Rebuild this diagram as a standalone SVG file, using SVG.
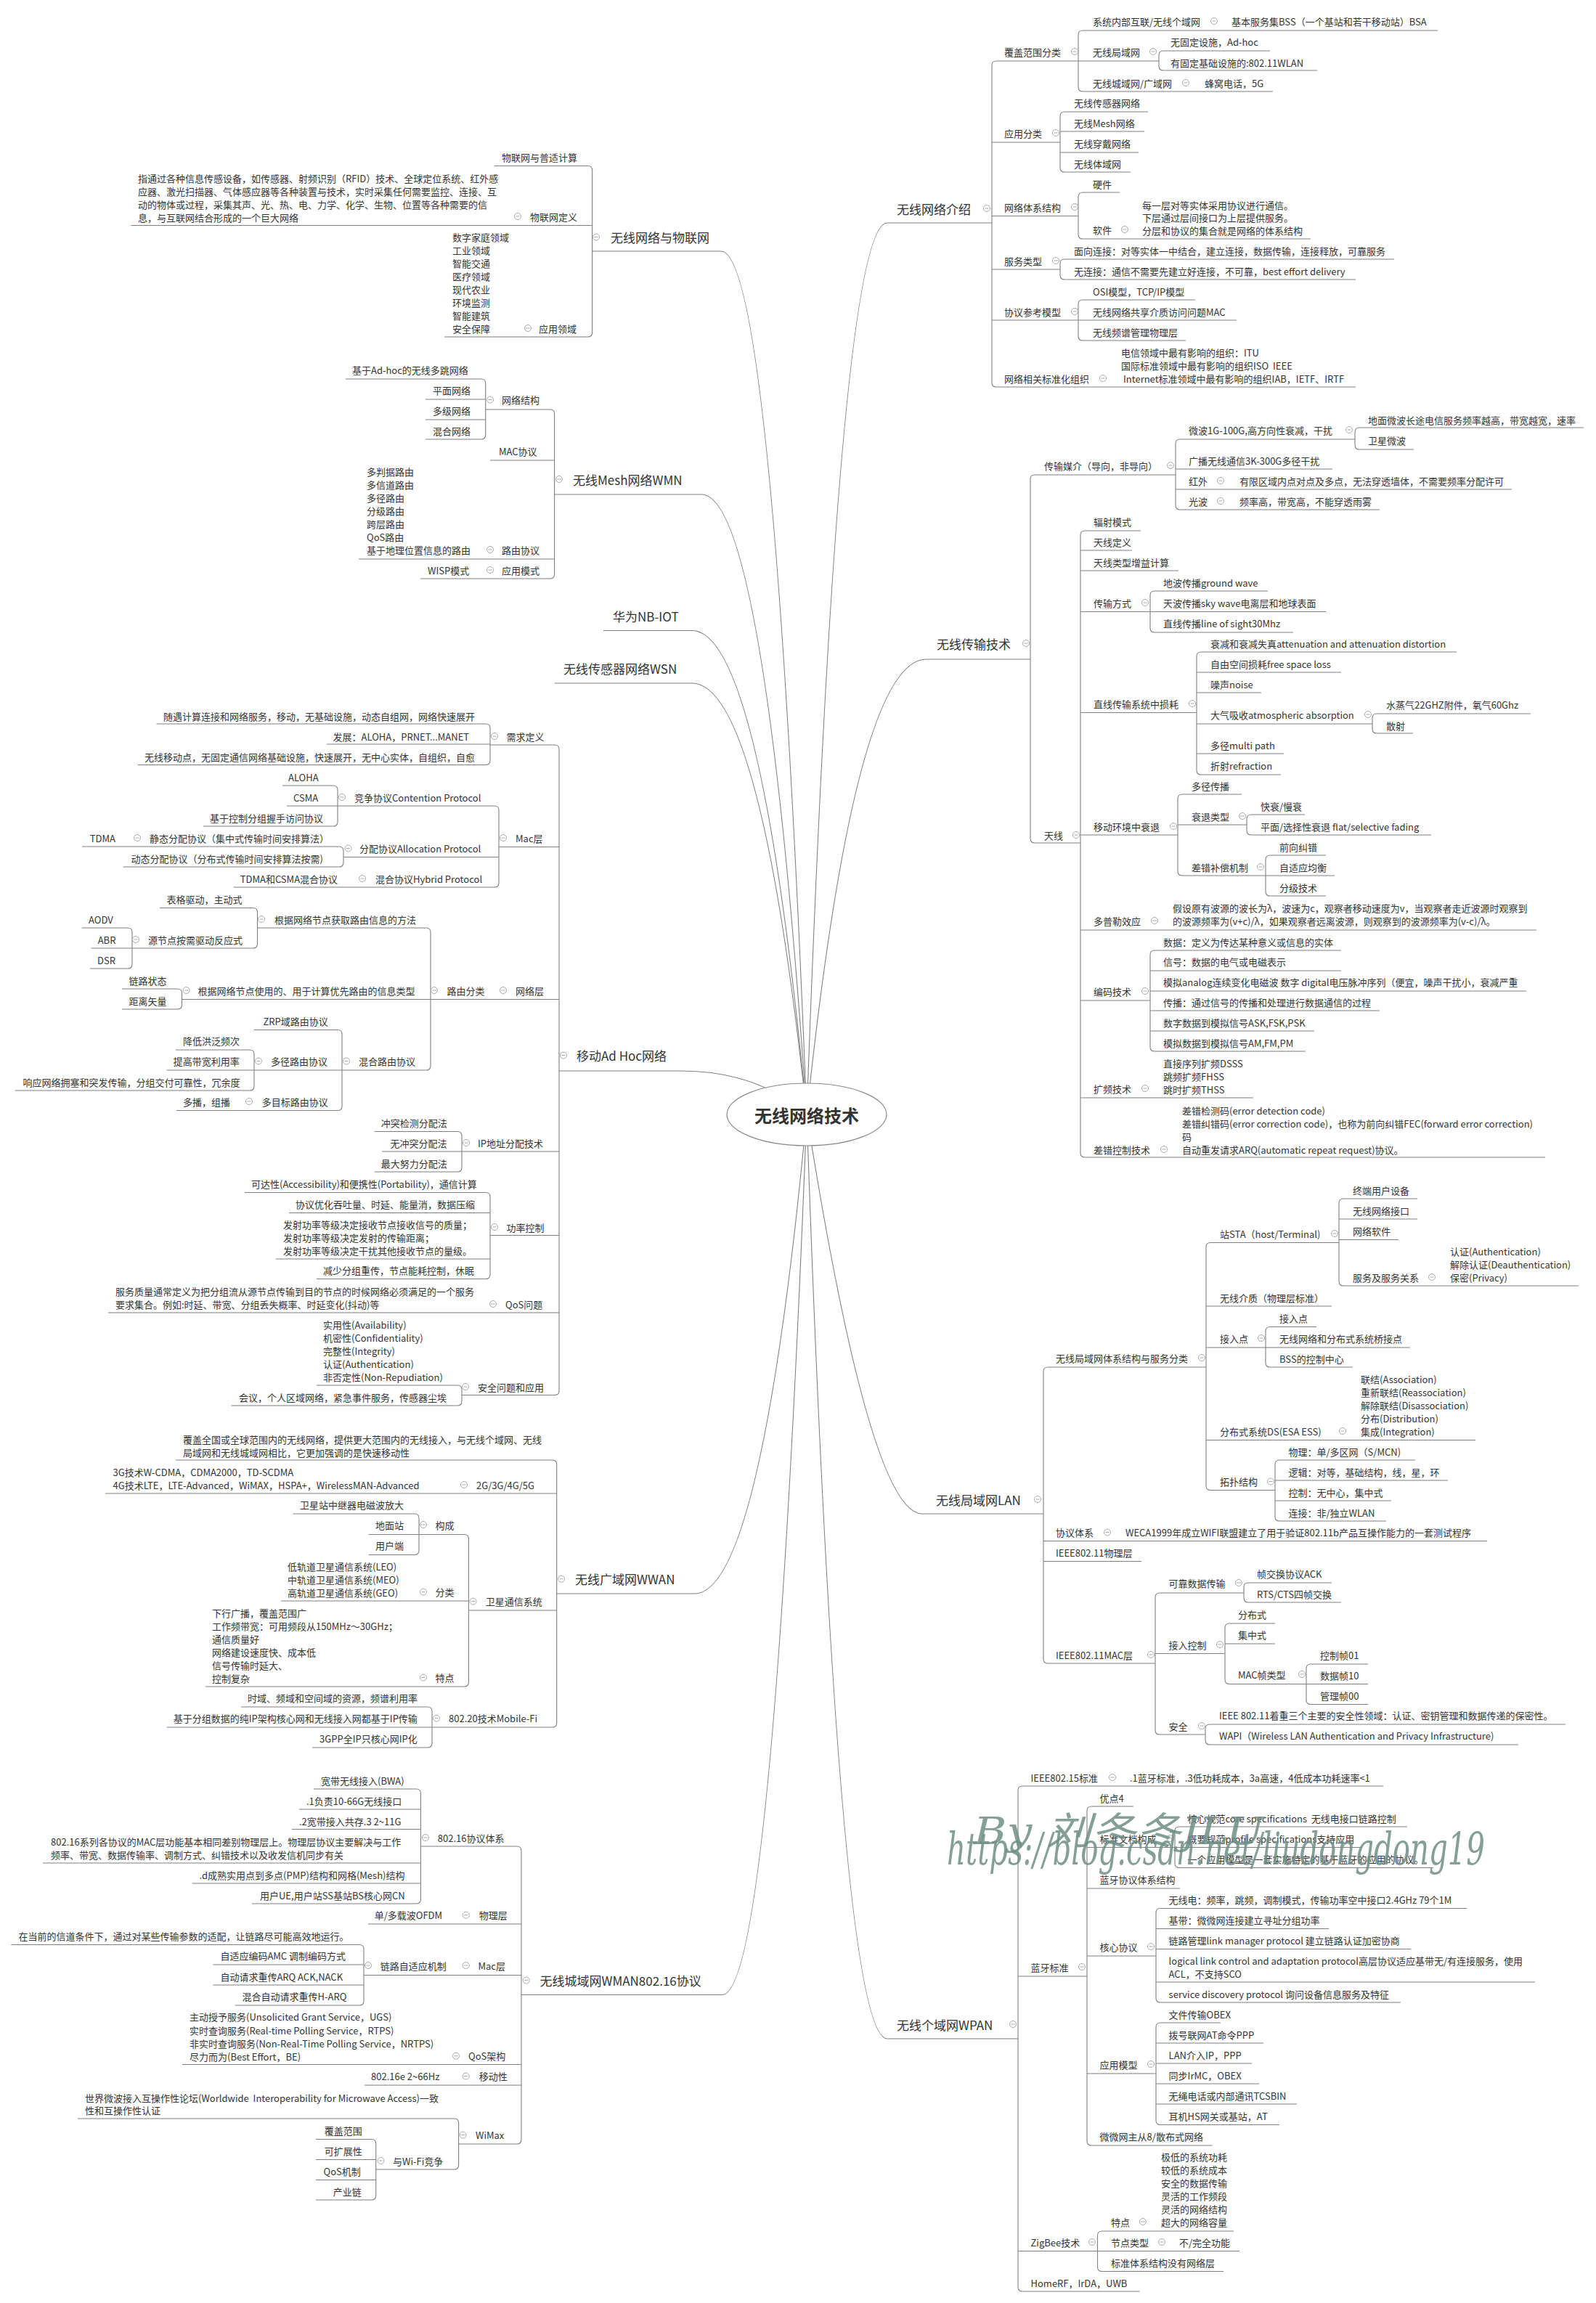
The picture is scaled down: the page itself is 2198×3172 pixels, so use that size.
<svg xmlns="http://www.w3.org/2000/svg" xmlns:xlink="http://www.w3.org/1999/xlink" width="2198" height="3172" viewBox="0 0 2198 3172">
<style>
.t{font-family:"Noto Sans CJK SC","Microsoft YaHei",sans-serif;font-size:13px;fill:#333;dominant-baseline:central;white-space:pre}
.b{font-size:17px}
.r{font-family:"Noto Sans CJK SC",sans-serif;font-size:24px;font-weight:bold;fill:#333;dominant-baseline:central;text-anchor:middle}
.c path{fill:none;stroke:#808080;stroke-width:1.1}
</style>
<defs>
<g id="m"><circle r="4.5" fill="#fff" stroke="#aaa" stroke-width="1"/><path d="M-2.5 0H2.5" stroke="#aaa" stroke-width="1"/></g>
</defs>
<rect width="2198" height="3172" fill="#fff"/>
<g id="connectors" class="c">
<path d="M1111 1535Q1155 307 1222 307H1366"/>
<path d="M1111 1535Q1177 908 1276 908H1419"/>
<path d="M1111 1535Q1198 2085 1270 2085H1437"/>
<path d="M1111 1535Q1155 2808 1222 2808H1402"/>
<path d="M1111 1535Q1064 346 993 346H815.6"/>
<path d="M1111 1535Q1053 681 966 681H763.6"/>
<path d="M1111 1535Q1048 868.5 953 868.5H831"/>
<path d="M1111 1535Q1048 941 953 941H763.6"/>
<path d="M1111 1535Q1042 1475 938 1475H770"/>
<path d="M1111 1535Q1049 2195 956.5 2195H766.7"/>
<path d="M1111 1535Q1064 2747.5 994.6 2747.5H718"/>
<path d="M1372 84Q1366 84 1366 90V527Q1366 533 1372 533M1372 84H1485M1366 196H1460M1366 297.5H1485M1366 371H1460M1366 441H1485M1372 533H1867"/>
<path d="M1491 42Q1485 42 1485 48V120Q1485 126 1491 126M1491 42H1980M1485 84H1596M1491 126H1753"/>
<path d="M1602 70Q1596 70 1596 76V91Q1596 97 1602 97M1602 70H1749M1602 97H1814"/>
<path d="M1466 154Q1460 154 1460 160V231Q1460 237 1466 237M1466 154H1581M1460 181H1576M1460 210H1568M1466 237H1557"/>
<path d="M1491 265Q1485 265 1485 271V323Q1485 329 1491 329M1491 265H1542M1491 329H1805"/>
<path d="M1466 357Q1460 357 1460 363V379Q1460 385 1466 385M1466 357H1920M1466 385H1867"/>
<path d="M1491 413Q1485 413 1485 419V463Q1485 469 1491 469M1491 413H1646M1485 441H1703M1491 469H1633"/>
<path d="M1425 654Q1419 654 1419 660V1155Q1419 1161 1425 1161M1425 654H1619M1425 1161H1488"/>
<path d="M1625 605Q1619 605 1619 611V696Q1619 702 1625 702M1625 605H1866M1619 646H1835M1619 674H2082M1625 702H1900"/>
<path d="M1872 589Q1866 589 1866 595V613Q1866 619 1872 619M1872 589H2181M1872 619H1947"/>
<path d="M1494 731Q1488 731 1488 737V1588Q1488 1594 1494 1594M1494 731H1571M1488 758H1559M1488 786H1623M1488 842.5H1584M1488 981.5H1648M1488 1150H1622M1488 1281H2116M1488 1378H1584M1488 1512H1726M1494 1594H2128"/>
<path d="M1590 814Q1584 814 1584 820V865Q1584 871 1590 871M1590 814H1746M1584 842.5H1826M1590 871H1781"/>
<path d="M1654 898Q1648 898 1648 904V1061Q1648 1067 1654 1067M1654 898H2006M1648 926H1847M1648 954H1737M1648 997H1890M1648 1038H1768M1654 1067H1764"/>
<path d="M1896 983Q1890 983 1890 989V1004Q1890 1010 1896 1010M1896 983H2108M1896 1010H1946"/>
<path d="M1628 1094Q1622 1094 1622 1100V1200Q1622 1206 1628 1206M1628 1094H1710M1622 1136H1717M1628 1206H1743"/>
<path d="M1723 1122Q1717 1122 1717 1128V1144Q1717 1150 1723 1150M1723 1122H1797M1723 1150H1971"/>
<path d="M1749 1178Q1743 1178 1743 1184V1228Q1743 1234 1749 1234M1749 1178H1826M1743 1206H1838M1749 1234H1826"/>
<path d="M1590 1309Q1584 1309 1584 1315V1442Q1584 1448 1590 1448M1590 1309H1847M1584 1337H1847M1584 1365H2102M1584 1392H1900M1584 1420H1810M1590 1448H1798"/>
<path d="M1443 1883Q1437 1883 1437 1889V2285Q1437 2291 1443 2291M1443 1883H1661M1437 2122.5H2048M1437 2150.5H1572M1443 2291H1591"/>
<path d="M1667 1711.5Q1661 1711.5 1661 1717.5V2046.5Q1661 2052.5 1667 2052.5M1667 1711.5H1844M1661 1799H1834M1661 1856H1743M1661 1983.5H2032M1667 2052.5H1756"/>
<path d="M1850 1651Q1844 1651 1844 1657V1765Q1844 1771 1850 1771M1850 1651H1952M1844 1679H1952M1844 1707.5H1926M1850 1771H2174"/>
<path d="M1749 1827.5Q1743 1827.5 1743 1833.5V1877Q1743 1883 1749 1883M1749 1827.5H1813M1743 1856H1942M1749 1883H1863"/>
<path d="M1762 2011Q1756 2011 1756 2017V2089Q1756 2095 1762 2095M1762 2011H1949M1756 2039H1994M1756 2067H1916M1762 2095H1909"/>
<path d="M1597 2194Q1591 2194 1591 2200V2383Q1591 2389 1597 2389M1597 2194H1713M1591 2277.5H1687M1597 2389H1660"/>
<path d="M1719 2180Q1713 2180 1713 2186V2201Q1713 2207 1719 2207M1719 2180H1834M1719 2207H1847"/>
<path d="M1693 2236Q1687 2236 1687 2242V2313.5Q1687 2319.5 1693 2319.5M1693 2236H1756M1687 2264H1756M1693 2319.5H1799"/>
<path d="M1805 2292Q1799 2292 1799 2298V2341.5Q1799 2347.5 1805 2347.5M1805 2292H1884M1799 2319.5H1884M1805 2347.5H1884"/>
<path d="M1666 2375Q1660 2375 1660 2381V2397Q1660 2403 1666 2403M1666 2375H2156M1666 2403H2091"/>
<path d="M1408 2460Q1402 2460 1402 2466V3150Q1402 3156 1408 3156M1408 2460H1905M1402 2722H1497M1402 3100.5H1511.5M1408 3156H1569.5"/>
<path d="M1503 2488Q1497 2488 1497 2494V2949Q1497 2955 1503 2955M1503 2488H1561M1497 2544.5H1618M1497 2601H1625M1497 2694H1592M1497 2856H1592M1503 2955H1669.5"/>
<path d="M1624 2516Q1618 2516 1618 2522V2566.5Q1618 2572.5 1624 2572.5M1624 2516H1938M1618 2544.5H1875M1624 2572.5H1974"/>
<path d="M1598 2628.5Q1592 2628.5 1592 2634.5V2752Q1592 2758 1598 2758M1598 2628.5H2020M1592 2656.5H1830M1592 2684.5H1943M1592 2730H2114M1598 2758H1929"/>
<path d="M1598 2786Q1592 2786 1592 2792V2920.5Q1592 2926.5 1598 2926.5M1598 2786H1681M1592 2814H1740M1592 2842H1724M1592 2870H1734M1592 2898H1786M1598 2926.5H1762"/>
<path d="M1517.5 3073Q1511.5 3073 1511.5 3079V3122.5Q1511.5 3128.5 1517.5 3128.5M1517.5 3073H1699M1511.5 3100.5H1707M1517.5 3128.5H1685"/>
<path d="M809.6 228.5Q815.6 228.5 815.6 234.5V458Q815.6 464 809.6 464M809.6 228.5H681M815.6 310.5H180.6M809.6 464H612"/>
<path d="M757.6 564Q763.6 564 763.6 570V791Q763.6 797 757.6 797M757.6 564H668.7M763.6 634H675M763.6 770H494M757.6 797H579"/>
<path d="M662.7 522Q668.7 522 668.7 528V599Q668.7 605 662.7 605M662.7 522H476M668.7 550H586M668.7 578H586M662.7 605H586"/>
<path d="M764 1026Q770 1026 770 1032V1915.5Q770 1921.5 764 1921.5M764 1026H675M770 1166.5H687M770 1376.5H593M770 1586H636M770 1701.5H675M770 1808H149M764 1921.5H636"/>
<path d="M669 997Q675 997 675 1003V1047.5Q675 1053.5 669 1053.5M669 997H215.5M675 1025H450M669 1053.5H190"/>
<path d="M681 1110Q687 1110 687 1116V1216Q687 1222 681 1222M681 1110H465M687 1180.5H473M681 1222H321.5"/>
<path d="M459 1082Q465 1082 465 1088V1132Q465 1138 459 1138M459 1082H389M465 1110H395M459 1138H280"/>
<path d="M467 1166Q473 1166 473 1172V1188Q473 1194 467 1194M467 1166H113M467 1194H169.6"/>
<path d="M587 1278Q593 1278 593 1284V1468Q593 1474 587 1474M587 1278H354.5M593 1376.5H250.5M587 1474H471"/>
<path d="M348.5 1250.5Q354.5 1250.5 354.5 1256.5V1300Q354.5 1306 348.5 1306M348.5 1250.5H220M348.5 1306H182"/>
<path d="M176 1278Q182 1278 182 1284V1328Q182 1334 176 1334M176 1278H112.6M182 1306H125.5M176 1334H124"/>
<path d="M244.5 1362Q250.5 1362 250.5 1368V1384Q250.5 1390 244.5 1390M244.5 1362H168M244.5 1390H168"/>
<path d="M465 1418.5Q471 1418.5 471 1424.5V1523.5Q471 1529.5 465 1529.5M465 1418.5H350M471 1474H350M465 1529.5H243"/>
<path d="M344 1446Q350 1446 350 1452V1496Q350 1502 344 1502M344 1446H242M350 1474H229.6M344 1502H20.7"/>
<path d="M630 1558.5Q636 1558.5 636 1564.5V1608Q636 1614 630 1614M630 1558.5H515.6M636 1586H526M630 1614H515.6"/>
<path d="M669 1642.5Q675 1642.5 675 1648.5V1755.5Q675 1761.5 669 1761.5M669 1642.5H337M675 1670.5H398M675 1734H379.5M669 1761.5H436"/>
<path d="M630 1908Q636 1908 636 1914V1930Q636 1936 630 1936M630 1908H436M630 1936H318.4"/>
<path d="M760.7 2011Q766.7 2011 766.7 2017V2373Q766.7 2379 760.7 2379M760.7 2011H242M766.7 2057H145M766.7 2218H645.4M760.7 2379H595"/>
<path d="M639.4 2113.5Q645.4 2113.5 645.4 2119.5V2317Q645.4 2323 639.4 2323M639.4 2113.5H577M645.4 2205H387M639.4 2323H283"/>
<path d="M571 2085Q577 2085 577 2091V2135.5Q577 2141.5 571 2141.5M571 2085H403.5M577 2113.5H507.5M571 2141.5H507.5"/>
<path d="M589 2351Q595 2351 595 2357V2401Q595 2407 589 2407M589 2351H332M595 2379H229.6M589 2407H430"/>
<path d="M712 2543Q718 2543 718 2549V2947Q718 2953 712 2953M712 2543H579.4M718 2650H507M718 2720.5H501M718 2843.5H251M718 2872H502M712 2953H631.6"/>
<path d="M573.4 2464Q579.4 2464 579.4 2470V2616Q579.4 2622 573.4 2622M573.4 2464H432M579.4 2492H412M579.4 2519.5H402M579.4 2566H59M579.4 2594H264.6M573.4 2622H347"/>
<path d="M495 2678.5Q501 2678.5 501 2684.5V2756Q501 2762 495 2762M495 2678.5H15.4M501 2706H293.4M501 2734H293.4M495 2762H323.5"/>
<path d="M625.6 2918Q631.6 2918 631.6 2924V2982Q631.6 2988 625.6 2988M625.6 2918H107M625.6 2988H517.7"/>
<path d="M511.7 2946.5Q517.7 2946.5 517.7 2952.5V3024Q517.7 3030 511.7 3030M511.7 2946.5H435M517.7 2974.5H435M517.7 3002.5H435M511.7 3030H435"/>
</g>
<g id="root"><ellipse cx="1111" cy="1535" rx="110" ry="43" fill="#fff" stroke="#888" stroke-width="1.2"/><text class="r" x="1111" y="1535">无线网络技术</text></g>
<g id="a0"><text class="t b" x="1235" y="287">无线网络介绍</text><use href="#m" x="1359" y="287"/></g>
<g id="a1"><text class="t" x="1383" y="71">覆盖范围分类</text><use href="#m" x="1480" y="71"/></g>
<g id="a2"><text class="t" x="1505" y="29">系统内部互联/无线个域网</text><use href="#m" x="1672" y="29"/></g>
<g id="a3"><text class="t" x="1696" y="29">基本服务集BSS（一个基站和若干移动站）BSA</text></g>
<g id="a4"><text class="t" x="1505" y="71">无线局域网</text><use href="#m" x="1588" y="71"/></g>
<g id="a5"><text class="t" x="1612" y="57">无固定设施，Ad-hoc</text></g>
<g id="a6"><text class="t" x="1612" y="86">有固定基础设施的:802.11WLAN</text></g>
<g id="a7"><text class="t" x="1505" y="114">无线城域网/广域网</text><use href="#m" x="1633" y="114"/></g>
<g id="a8"><text class="t" x="1659" y="114">蜂窝电话，5G</text></g>
<g id="a9"><text class="t" x="1383" y="183">应用分类</text><use href="#m" x="1454" y="183"/></g>
<g id="a10"><text class="t" x="1479" y="141">无线传感器网络</text></g>
<g id="a11"><text class="t" x="1479" y="169">无线Mesh网络</text></g>
<g id="a12"><text class="t" x="1479" y="197">无线穿戴网络</text></g>
<g id="a13"><text class="t" x="1479" y="225">无线体域网</text></g>
<g id="a14"><text class="t" x="1383" y="285">网络体系结构</text><use href="#m" x="1480" y="285"/></g>
<g id="a15"><text class="t" x="1505" y="253">硬件</text></g>
<g id="a16"><text class="t" x="1505" y="316">软件</text><use href="#m" x="1549" y="316"/></g>
<g id="a17"><text class="t"><tspan x="1573" y="282">每一层对等实体采用协议进行通信。</tspan><tspan x="1573" y="299">下层通过层间接口为上层提供服务。</tspan><tspan x="1573" y="317">分层和协议的集合就是网络的体系结构</tspan></text></g>
<g id="a18"><text class="t" x="1383" y="359">服务类型</text><use href="#m" x="1454" y="359"/></g>
<g id="a19"><text class="t" x="1479" y="345">面向连接：对等实体一中结合，建立连接，数据传输，连接释放，可靠服务</text></g>
<g id="a20"><text class="t" x="1479" y="373">无连接：通信不需要先建立好连接，不可靠，best effort delivery</text></g>
<g id="a21"><text class="t" x="1383" y="429">协议参考模型</text><use href="#m" x="1480" y="429"/></g>
<g id="a22"><text class="t" x="1505" y="401">OSI模型，TCP/IP模型</text></g>
<g id="a23"><text class="t" x="1505" y="429">无线网络共享介质访问问题MAC</text></g>
<g id="a24"><text class="t" x="1505" y="457">无线频谱管理物理层</text></g>
<g id="a25"><text class="t" x="1383" y="521">网络相关标准化组织</text><use href="#m" x="1519" y="521"/></g>
<g id="a26"><text class="t"><tspan x="1544" y="485">电信领域中最有影响的组织：ITU</tspan><tspan x="1544" y="503">国际标准领域中最有影响的组织ISO  IEEE</tspan><tspan x="1547" y="521">Internet标准领域中最有影响的组织IAB，IETF、IRTF</tspan></text></g>
<g id="b0"><text class="t b" x="1290" y="886">无线传输技术</text><use href="#m" x="1413" y="886"/></g>
<g id="b1"><text class="t" x="1438" y="641">传输媒介（导向，非导向）</text><use href="#m" x="1612" y="641"/></g>
<g id="b2"><text class="t" x="1637" y="592">微波1G-100G,高方向性衰减，干扰</text><use href="#m" x="1858" y="592"/></g>
<g id="b3"><text class="t" x="1884" y="578">地面微波长途电信服务频率越高，带宽越宽，速率</text></g>
<g id="b4"><text class="t" x="1884" y="606">卫星微波</text></g>
<g id="b5"><text class="t" x="1637" y="634">广播无线通信3K-300G多径干扰</text></g>
<g id="b6"><text class="t" x="1637" y="662">红外</text><use href="#m" x="1681" y="662"/></g>
<g id="b7"><text class="t" x="1707" y="662">有限区域内点对点及多点，无法穿透墙体，不需要频率分配许可</text></g>
<g id="b8"><text class="t" x="1637" y="690">光波</text><use href="#m" x="1681" y="690"/></g>
<g id="b9"><text class="t" x="1707" y="690">频率高，带宽高，不能穿透雨雾</text></g>
<g id="b10"><text class="t" x="1438" y="1150">天线</text><use href="#m" x="1482" y="1150"/></g>
<g id="b11"><text class="t" x="1506" y="718">辐射模式</text></g>
<g id="b12"><text class="t" x="1506" y="746">天线定义</text></g>
<g id="b13"><text class="t" x="1506" y="774">天线类型增益计算</text></g>
<g id="b14"><text class="t" x="1506" y="830">传输方式</text><use href="#m" x="1577" y="830"/></g>
<g id="b15"><text class="t" x="1602" y="802">地波传播ground wave</text></g>
<g id="b16"><text class="t" x="1602" y="830">天波传播sky wave电离层和地球表面</text></g>
<g id="b17"><text class="t" x="1602" y="858">直线传播line of sight30Mhz</text></g>
<g id="b18"><text class="t" x="1506" y="969">直线传输系统中损耗</text><use href="#m" x="1642" y="969"/></g>
<g id="b19"><text class="t" x="1667" y="886">衰减和衰减失真attenuation and attenuation distortion</text></g>
<g id="b20"><text class="t" x="1667" y="914">自由空间损耗free space loss</text></g>
<g id="b21"><text class="t" x="1667" y="942">噪声noise</text></g>
<g id="b22"><text class="t" x="1667" y="984">大气吸收atmospheric absorption</text><use href="#m" x="1884" y="984"/></g>
<g id="b23"><text class="t" x="1667" y="1026">多径multi path</text></g>
<g id="b24"><text class="t" x="1667" y="1054">折射refraction</text></g>
<g id="b25"><text class="t" x="1909" y="970">水蒸气22GHZ附件，氧气60Ghz</text></g>
<g id="b26"><text class="t" x="1909" y="999">散射</text></g>
<g id="b27"><text class="t" x="1506" y="1138">移动环境中衰退</text><use href="#m" x="1616" y="1138"/></g>
<g id="b28"><text class="t" x="1641" y="1082">多径传播</text></g>
<g id="b29"><text class="t" x="1641" y="1124">衰退类型</text><use href="#m" x="1711" y="1124"/></g>
<g id="b30"><text class="t" x="1736" y="1110">快衰/慢衰</text></g>
<g id="b31"><text class="t" x="1736" y="1138">平面/选择性衰退 flat/selective fading</text></g>
<g id="b32"><text class="t" x="1641" y="1194">差错补偿机制</text><use href="#m" x="1736" y="1194"/></g>
<g id="b33"><text class="t" x="1762" y="1166">前向纠错</text></g>
<g id="b34"><text class="t" x="1762" y="1194">自适应均衡</text></g>
<g id="b35"><text class="t" x="1762" y="1222">分级技术</text></g>
<g id="b36"><text class="t" x="1506" y="1268">多普勒效应</text><use href="#m" x="1590" y="1268"/></g>
<g id="b37"><text class="t"><tspan x="1615" y="1250">假设原有波源的波长为λ，波速为c，观察者移动速度为v，当观察者走近波源时观察到</tspan><tspan x="1615" y="1268">的波源频率为(v+c)/λ，如果观察者远离波源，则观察到的波源频率为(v-c)/λ。</tspan></text></g>
<g id="b38"><text class="t" x="1506" y="1365">编码技术</text><use href="#m" x="1577" y="1365"/></g>
<g id="b39"><text class="t" x="1602" y="1297">数据：定义为传达某种意义或信息的实体</text></g>
<g id="b40"><text class="t" x="1602" y="1324">信号：数据的电气或电磁表示</text></g>
<g id="b41"><text class="t" x="1602" y="1352">模拟analog连续变化电磁波 数字 digital电压脉冲序列（便宜，噪声干扰小，衰减严重</text></g>
<g id="b42"><text class="t" x="1602" y="1380">传播：通过信号的传播和处理进行数据通信的过程</text></g>
<g id="b43"><text class="t" x="1602" y="1408">数字数据到模拟信号ASK,FSK,PSK</text></g>
<g id="b44"><text class="t" x="1602" y="1436">模拟数据到模拟信号AM,FM,PM</text></g>
<g id="b45"><text class="t" x="1506" y="1499">扩频技术</text><use href="#m" x="1577" y="1499"/></g>
<g id="b46"><text class="t"><tspan x="1602" y="1464">直接序列扩频DSSS</tspan><tspan x="1602" y="1482">跳频扩频FHSS</tspan><tspan x="1602" y="1500">跳时扩频THSS</tspan></text></g>
<g id="b47"><text class="t" x="1506" y="1583">差错控制技术</text><use href="#m" x="1603" y="1583"/></g>
<g id="b48"><text class="t"><tspan x="1628" y="1529">差错检测码(error detection code)</tspan><tspan x="1628" y="1547">差错纠错码(error correction code)，也称为前向纠错FEC(forward error correction)</tspan><tspan x="1628" y="1565">码</tspan><tspan x="1628" y="1583">自动重发请求ARQ(automatic repeat request)协议。</tspan></text></g>
<g id="c0"><text class="t b" x="1289" y="2065">无线局域网LAN</text><use href="#m" x="1429" y="2065"/></g>
<g id="c1"><text class="t" x="1454" y="1870">无线局域网体系结构与服务分类</text><use href="#m" x="1655" y="1870"/></g>
<g id="c2"><text class="t" x="1680" y="1699">站STA（host/Terminal)</text><use href="#m" x="1838" y="1699"/></g>
<g id="c3"><text class="t" x="1863" y="1639">终端用户设备</text></g>
<g id="c4"><text class="t" x="1863" y="1667">无线网络接口</text></g>
<g id="c5"><text class="t" x="1863" y="1695.5">网络软件</text></g>
<g id="c6"><text class="t" x="1863" y="1759">服务及服务关系</text><use href="#m" x="1972" y="1759"/></g>
<g id="c7"><text class="t"><tspan x="1997" y="1723">认证(Authentication)</tspan><tspan x="1997" y="1741">解除认证(Deauthentication)</tspan><tspan x="1997" y="1759">保密(Privacy)</tspan></text></g>
<g id="c8"><text class="t" x="1680" y="1787">无线介质（物理层标准）</text></g>
<g id="c9"><text class="t" x="1680" y="1843">接入点</text><use href="#m" x="1737" y="1843"/></g>
<g id="c10"><text class="t" x="1762" y="1815">接入点</text></g>
<g id="c11"><text class="t" x="1762" y="1843">无线网络和分布式系统桥接点</text></g>
<g id="c12"><text class="t" x="1762" y="1871">BSS的控制中心</text></g>
<g id="c13"><text class="t" x="1680" y="1971">分布式系统DS(ESA ESS)</text><use href="#m" x="1849" y="1971"/></g>
<g id="c14"><text class="t"><tspan x="1874" y="1899">联结(Association)</tspan><tspan x="1874" y="1917">重新联结(Reassociation)</tspan><tspan x="1874" y="1935">解除联结(Disassociation)</tspan><tspan x="1874" y="1953">分布(Distribution)</tspan><tspan x="1874" y="1971">集成(Integration)</tspan></text></g>
<g id="c15"><text class="t" x="1680" y="2040.5">拓扑结构</text><use href="#m" x="1750" y="2040.5"/></g>
<g id="c16"><text class="t" x="1774.5" y="1999">物理：单/多区网（S/MCN)</text></g>
<g id="c17"><text class="t" x="1774.5" y="2027">逻辑：对等，基础结构，线，星，环</text></g>
<g id="c18"><text class="t" x="1774.5" y="2055">控制：无中心，集中式</text></g>
<g id="c19"><text class="t" x="1774.5" y="2083">连接：非/独立WLAN</text></g>
<g id="c20"><text class="t" x="1454" y="2110.5">协议体系</text><use href="#m" x="1525" y="2110.5"/></g>
<g id="c21"><text class="t" x="1550" y="2110.5">WECA1999年成立WIFI联盟建立了用于验证802.11b产品互操作能力的一套测试程序</text></g>
<g id="c22"><text class="t" x="1454" y="2138.5">IEEE802.11物理层</text></g>
<g id="c23"><text class="t" x="1454" y="2279">IEEE802.11MAC层</text><use href="#m" x="1585" y="2279"/></g>
<g id="c24"><text class="t" x="1609.6" y="2180">可靠数据传输</text><use href="#m" x="1706" y="2180"/></g>
<g id="c25"><text class="t" x="1731" y="2167">帧交换协议ACK</text></g>
<g id="c26"><text class="t" x="1731" y="2195">RTS/CTS四帧交换</text></g>
<g id="c27"><text class="t" x="1609.6" y="2265">接入控制</text><use href="#m" x="1680" y="2265"/></g>
<g id="c28"><text class="t" x="1705" y="2223">分布式</text></g>
<g id="c29"><text class="t" x="1705" y="2251">集中式</text></g>
<g id="c30"><text class="t" x="1705" y="2306">MAC帧类型</text><use href="#m" x="1793" y="2306"/></g>
<g id="c31"><text class="t" x="1818" y="2279">控制帧01</text></g>
<g id="c32"><text class="t" x="1818" y="2307">数据帧10</text></g>
<g id="c33"><text class="t" x="1818" y="2335">管理帧00</text></g>
<g id="c34"><text class="t" x="1609.6" y="2377">安全</text><use href="#m" x="1655" y="2377"/></g>
<g id="c35"><text class="t" x="1679" y="2362.5">IEEE 802.11着重三个主要的安全性领域：认证、密钥管理和数据传递的保密性。</text></g>
<g id="c36"><text class="t" x="1679" y="2390.5">WAPI（Wireless LAN Authentication and Privacy Infrastructure)</text></g>
<g id="d0"><text class="t b" x="1235" y="2788">无线个域网WPAN</text><use href="#m" x="1395" y="2788"/></g>
<g id="d1"><text class="t" x="1419.5" y="2448">IEEE802.15标准</text><use href="#m" x="1532" y="2448"/></g>
<g id="d2"><text class="t" x="1556" y="2448">.1蓝牙标准，.3低功耗成本，3a高速，4低成本功耗速率&lt;1</text></g>
<g id="d3"><text class="t" x="1419.5" y="2709">蓝牙标准</text><use href="#m" x="1490" y="2709"/></g>
<g id="d4"><text class="t" x="1514.6" y="2476">优点4</text></g>
<g id="d5"><text class="t" x="1514.6" y="2532">标准文档构成</text><use href="#m" x="1611.5" y="2532"/></g>
<g id="d6"><text class="t" x="1635.5" y="2504">核心规范core specifications  无线电接口链路控制</text></g>
<g id="d7"><text class="t" x="1635.5" y="2532">概要规范profile specifications支持应用</text></g>
<g id="d8"><text class="t" x="1635.5" y="2560">一个应用模型是一套实施特定的基于蓝牙的应用的协议。</text></g>
<g id="d9"><text class="t" x="1514.6" y="2588">蓝牙协议体系结构</text></g>
<g id="d10"><text class="t" x="1514.6" y="2681">核心协议</text><use href="#m" x="1585" y="2681"/></g>
<g id="d11"><text class="t" x="1609.6" y="2616">无线电：频率，跳频，调制模式，传输功率空中接口2.4GHz 79个1M</text></g>
<g id="d12"><text class="t" x="1609.6" y="2644">基带：微微网连接建立寻址分组功率</text></g>
<g id="d13"><text class="t" x="1609.6" y="2672">链路管理link manager protocol 建立链路认证加密协商</text></g>
<g id="d14"><text class="t"><tspan x="1609.6" y="2700">logical link control and adaptation protocol高层协议适应基带无/有连接服务，使用</tspan><tspan x="1609.6" y="2718">ACL，不支持SCO</tspan></text></g>
<g id="d15"><text class="t" x="1609.6" y="2746">service discovery protocol 询问设备信息服务及特征</text></g>
<g id="d16"><text class="t" x="1514.6" y="2843">应用模型</text><use href="#m" x="1585" y="2843"/></g>
<g id="d17"><text class="t" x="1609.6" y="2774">文件传输OBEX</text></g>
<g id="d18"><text class="t" x="1609.6" y="2802">拨号联网AT命令PPP</text></g>
<g id="d19"><text class="t" x="1609.6" y="2830">LAN介入IP，PPP</text></g>
<g id="d20"><text class="t" x="1609.6" y="2858">同步IrMC，OBEX</text></g>
<g id="d21"><text class="t" x="1609.6" y="2886">无绳电话或内部通讯TCSBIN</text></g>
<g id="d22"><text class="t" x="1609.6" y="2914">耳机HS网关或基站，AT</text></g>
<g id="d23"><text class="t" x="1514.6" y="2942">微微网主从8/散布式网络</text></g>
<g id="d24"><text class="t" x="1419.5" y="3088">ZigBee技术</text><use href="#m" x="1504" y="3088"/></g>
<g id="d25"><text class="t" x="1530" y="3060">特点</text><use href="#m" x="1574" y="3060"/></g>
<g id="d26"><text class="t"><tspan x="1599" y="2970">极低的系统功耗</tspan><tspan x="1599" y="2988">较低的系统成本</tspan><tspan x="1599" y="3006">安全的数据传输</tspan><tspan x="1599" y="3024">灵活的工作频段</tspan><tspan x="1599" y="3042">灵活的网络结构</tspan><tspan x="1599" y="3060">超大的网络容量</tspan></text></g>
<g id="d27"><text class="t" x="1530" y="3088">节点类型</text><use href="#m" x="1600" y="3088"/></g>
<g id="d28"><text class="t" x="1624" y="3088">不/完全功能</text></g>
<g id="d29"><text class="t" x="1530" y="3116">标准体系结构没有网络层</text></g>
<g id="d30"><text class="t" x="1419.5" y="3144">HomeRF，IrDA，UWB</text></g>
<g id="e0"><text class="t b" x="841" y="326.5">无线网络与物联网</text><use href="#m" x="821" y="326.5"/></g>
<g id="e1"><text class="t" x="691" y="216">物联网与普适计算</text></g>
<g id="e2"><text class="t" x="730" y="298">物联网定义</text><use href="#m" x="713" y="298"/></g>
<g id="e3"><text class="t"><tspan x="190" y="244.5">指通过各种信息传感设备，如传感器、射频识别（RFID）技术、全球定位系统、红外感</tspan><tspan x="190" y="262.5">应器、激光扫描器、气体感应器等各种装置与技术，实时采集任何需要监控、连接、互</tspan><tspan x="190" y="280.5">动的物体或过程，采集其声、光、热、电、力学、化学、生物、位置等各种需要的信</tspan><tspan x="190" y="298.5">息，与互联网结合形成的一个巨大网络</tspan></text></g>
<g id="e4"><text class="t" x="742" y="452">应用领域</text><use href="#m" x="727" y="452"/></g>
<g id="e5"><text class="t"><tspan x="623" y="326">数字家庭领域</tspan><tspan x="623" y="344">工业领域</tspan><tspan x="623" y="362">智能交通</tspan><tspan x="623" y="380">医疗领域</tspan><tspan x="623" y="398">现代农业</tspan><tspan x="623" y="416">环境监测</tspan><tspan x="623" y="434">智能建筑</tspan><tspan x="623" y="452">安全保障</tspan></text></g>
<g id="f0"><text class="t b" x="789" y="660">无线Mesh网络WMN</text><use href="#m" x="770" y="660"/></g>
<g id="f1"><text class="t" x="691" y="550.5">网络结构</text><use href="#m" x="675" y="550.5"/></g>
<g id="f2"><text class="t" x="485" y="509">基于Ad-hoc的无线多跳网络</text></g>
<g id="f3"><text class="t" x="596" y="537">平面网络</text></g>
<g id="f4"><text class="t" x="596" y="565">多级网络</text></g>
<g id="f5"><text class="t" x="596" y="593">混合网络</text></g>
<g id="f6"><text class="t" x="687" y="621">MAC协议</text></g>
<g id="f7"><text class="t" x="691" y="757">路由协议</text><use href="#m" x="675" y="757"/></g>
<g id="f8"><text class="t"><tspan x="505" y="649">多判据路由</tspan><tspan x="505" y="667">多信道路由</tspan><tspan x="505" y="685">多径路由</tspan><tspan x="505" y="703">分级路由</tspan><tspan x="505" y="721">跨层路由</tspan><tspan x="505" y="739">QoS路由</tspan><tspan x="505" y="757">基于地理位置信息的路由</tspan></text></g>
<g id="f9"><text class="t" x="691" y="785">应用模式</text><use href="#m" x="675" y="785"/></g>
<g id="f10"><text class="t" x="589" y="785">WISP模式</text></g>
<g id="g0"><text class="t b" x="844" y="848">华为NB-IOT</text></g>
<g id="h0"><text class="t b" x="776" y="920">无线传感器网络WSN</text></g>
<g id="i0"><text class="t b" x="794" y="1453.5">移动Ad Hoc网络</text><use href="#m" x="776" y="1453.5"/></g>
<g id="i1"><text class="t" x="697.5" y="1014">需求定义</text><use href="#m" x="681" y="1014"/></g>
<g id="i2"><text class="t" x="225" y="986">随遇计算连接和网络服务，移动，无基础设施，动态自组网，网络快速展开</text></g>
<g id="i3"><text class="t" x="458.6" y="1014">发展：ALOHA，PRNET...MANET</text></g>
<g id="i4"><text class="t" x="199" y="1042">无线移动点，无固定通信网络基础设施，快速展开，无中心实体，自组织，自愈</text></g>
<g id="i5"><text class="t" x="710" y="1154">Mac层</text><use href="#m" x="693" y="1154"/></g>
<g id="i6"><text class="t" x="488" y="1098">竞争协议Contention Protocol</text><use href="#m" x="471" y="1098"/></g>
<g id="i7"><text class="t" x="397" y="1070">ALOHA</text></g>
<g id="i8"><text class="t" x="404" y="1098">CSMA</text></g>
<g id="i9"><text class="t" x="289" y="1126">基于控制分组握手访问协议</text></g>
<g id="i10"><text class="t" x="495" y="1168.5">分配协议Allocation Protocol</text><use href="#m" x="479.5" y="1168.5"/></g>
<g id="i11"><text class="t" x="206" y="1154">静态分配协议（集中式传输时间安排算法）</text><use href="#m" x="189" y="1154"/></g>
<g id="i12"><text class="t" x="123.7" y="1154">TDMA</text></g>
<g id="i13"><text class="t" x="180.6" y="1182">动态分配协议（分布式传输时间安排算法按需)</text></g>
<g id="i14"><text class="t" x="517" y="1210">混合协议Hybrid Protocol</text><use href="#m" x="499" y="1210"/></g>
<g id="i15"><text class="t" x="330.7" y="1210">TDMA和CSMA混合协议</text></g>
<g id="i16"><text class="t" x="710" y="1364">网络层</text><use href="#m" x="693" y="1364"/></g>
<g id="i17"><text class="t" x="615.4" y="1364">路由分类</text><use href="#m" x="598" y="1364"/></g>
<g id="i18"><text class="t" x="378" y="1266">根据网络节点获取路由信息的方法</text><use href="#m" x="360" y="1266"/></g>
<g id="i19"><text class="t" x="229.6" y="1238.6">表格驱动，主动式</text></g>
<g id="i20"><text class="t" x="204" y="1294">源节点按需驱动反应式</text><use href="#m" x="187" y="1294"/></g>
<g id="i21"><text class="t" x="122" y="1266">AODV</text></g>
<g id="i22"><text class="t" x="134.7" y="1294">ABR</text></g>
<g id="i23"><text class="t" x="134" y="1322">DSR</text></g>
<g id="i24"><text class="t" x="272.5" y="1364">根据网络节点使用的、用于计算优先路由的信息类型</text><use href="#m" x="256.6" y="1364"/></g>
<g id="i25"><text class="t" x="177.6" y="1350.5">链路状态</text></g>
<g id="i26"><text class="t" x="177.6" y="1378">距离矢量</text></g>
<g id="i27"><text class="t" x="494" y="1461.5">混合路由协议</text><use href="#m" x="477" y="1461.5"/></g>
<g id="i28"><text class="t" x="362.5" y="1406">ZRP域路由协议</text></g>
<g id="i29"><text class="t" x="373" y="1461.5">多径路由协议</text><use href="#m" x="356" y="1461.5"/></g>
<g id="i30"><text class="t" x="252" y="1433.6">降低洪泛频次</text></g>
<g id="i31"><text class="t" x="238.8" y="1461.5">提高带宽利用率</text></g>
<g id="i32"><text class="t" x="31.5" y="1490">响应网络拥塞和突发传输，分组交付可靠性，冗余度</text></g>
<g id="i33"><text class="t" x="360.7" y="1517">多目标路由协议</text><use href="#m" x="343" y="1517"/></g>
<g id="i34"><text class="t" x="252" y="1517">多播，组播</text></g>
<g id="i35"><text class="t" x="658" y="1574">IP地址分配技术</text><use href="#m" x="642" y="1574"/></g>
<g id="i36"><text class="t" x="524.8" y="1546">冲突检测分配法</text></g>
<g id="i37"><text class="t" x="537.6" y="1574">无冲突分配法</text></g>
<g id="i38"><text class="t" x="524.8" y="1602">最大努力分配法</text></g>
<g id="i39"><text class="t" x="697.5" y="1690">功率控制</text><use href="#m" x="681" y="1690"/></g>
<g id="i40"><text class="t" x="346" y="1630">可达性(Accessibility)和便携性(Portability)，通信计算</text></g>
<g id="i41"><text class="t" x="407" y="1658">协议优化吞吐量、时延、能量消，数据压缩</text></g>
<g id="i42"><text class="t"><tspan x="390" y="1686">发射功率等级决定接收节点接收信号的质量；</tspan><tspan x="390" y="1704">发射功率等级决定发射的传输距离；</tspan><tspan x="390" y="1722">发射功率等级决定干扰其他接收节点的量级。</tspan></text></g>
<g id="i43"><text class="t" x="445" y="1749">减少分组重传，节点能耗控制，休眠</text></g>
<g id="i44"><text class="t" x="696" y="1796">QoS问题</text><use href="#m" x="679" y="1796"/></g>
<g id="i45"><text class="t"><tspan x="159" y="1778">服务质量通常定义为把分组流从源节点传输到目的节点的时候网络必须满足的一个服务</tspan><tspan x="159" y="1796">要求集合。例如:时延、带宽、分组丢失概率、时延变化(抖动)等</tspan></text></g>
<g id="i46"><text class="t" x="658" y="1910">安全问题和应用</text><use href="#m" x="641" y="1910"/></g>
<g id="i47"><text class="t"><tspan x="445" y="1824">实用性(Availability)</tspan><tspan x="445" y="1842">机密性(Confidentiality)</tspan><tspan x="445" y="1860">完整性(Integrity)</tspan><tspan x="445" y="1878">认证(Authentication)</tspan><tspan x="445" y="1896">非否定性(Non-Repudiation)</tspan></text></g>
<g id="i48"><text class="t" x="329" y="1924.4">会议，个人区域网络，紧急事件服务，传感器尘埃</text></g>
<g id="j0"><text class="t b" x="792" y="2174.7">无线广域网WWAN</text><use href="#m" x="773" y="2174.7"/></g>
<g id="j1"><text class="t"><tspan x="252" y="1981.6">覆盖全国或全球范围内的无线网络，提供更大范围内的无线接入，与无线个域网、无线</tspan><tspan x="252" y="1999.6">局域网和无线城域网相比，它更加强调的是快速移动性</tspan></text></g>
<g id="j2"><text class="t" x="656" y="2045">2G/3G/4G/5G</text><use href="#m" x="639" y="2045"/></g>
<g id="j3"><text class="t"><tspan x="155.5" y="2027">3G技术W-CDMA，CDMA2000，TD-SCDMA</tspan><tspan x="155.5" y="2045">4G技术LTE，LTE-Advanced，WiMAX，HSPA+，WirelessMAN-Advanced</tspan></text></g>
<g id="j4"><text class="t" x="668.7" y="2205.6">卫星通信系统</text><use href="#m" x="651.5" y="2205.6"/></g>
<g id="j5"><text class="t" x="599.5" y="2100">构成</text><use href="#m" x="583" y="2100"/></g>
<g id="j6"><text class="t" x="413" y="2072">卫星站中继器电磁波放大</text></g>
<g id="j7"><text class="t" x="517" y="2100">地面站</text></g>
<g id="j8"><text class="t" x="517" y="2128">用户端</text></g>
<g id="j9"><text class="t" x="599.5" y="2192.6">分类</text><use href="#m" x="583" y="2192.6"/></g>
<g id="j10"><text class="t"><tspan x="396" y="2157">低轨道卫星通信系统(LEO)</tspan><tspan x="396" y="2175">中轨道卫星通信系统(MEO)</tspan><tspan x="396" y="2193">高轨道卫星通信系统(GEO)</tspan></text></g>
<g id="j11"><text class="t" x="599.5" y="2310.5">特点</text><use href="#m" x="583" y="2310.5"/></g>
<g id="j12"><text class="t"><tspan x="292" y="2220.5">下行广播，覆盖范围广</tspan><tspan x="292" y="2238.5">工作频带宽：可用频段从150MHz～30GHz；</tspan><tspan x="292" y="2256.5">通信质量好</tspan><tspan x="292" y="2274.5">网络建设速度快、成本低</tspan><tspan x="292" y="2292.5">信号传输时延大、</tspan><tspan x="292" y="2310.5">控制复杂</tspan></text></g>
<g id="j13"><text class="t" x="618" y="2366.6">802.20技术Mobile-Fi</text><use href="#m" x="601" y="2366.6"/></g>
<g id="j14"><text class="t" x="341" y="2338.6">时域、频域和空间域的资源，频谱利用率</text></g>
<g id="j15"><text class="t" x="238.8" y="2366.6">基于分组数据的纯IP架构核心网和无线接入网都基于IP传输</text></g>
<g id="j16"><text class="t" x="440" y="2394.6">3GPP全IP只核心网IP化</text></g>
<g id="k0"><text class="t b" x="743.5" y="2727.6">无线城域网WMAN802.16协议</text><use href="#m" x="724.7" y="2727.6"/></g>
<g id="k1"><text class="t" x="602.8" y="2531">802.16协议体系</text><use href="#m" x="586" y="2531"/></g>
<g id="k2"><text class="t" x="442" y="2452">宽带无线接入(BWA)</text></g>
<g id="k3"><text class="t" x="422" y="2480">.1负责10-66G无线接口</text></g>
<g id="k4"><text class="t" x="412" y="2508">.2宽带接入共存.3 2~11G</text></g>
<g id="k5"><text class="t"><tspan x="70" y="2536">802.16系列各协议的MAC层功能基本相同差别物理层上。物理层协议主要解决与工作</tspan><tspan x="70" y="2554">频率、带宽、数据传输率、调制方式、纠错技术以及收发信机同步有关</tspan></text></g>
<g id="k6"><text class="t" x="274.6" y="2582.5">.d成熟实用点到多点(PMP)结构和网格(Mesh)结构</text></g>
<g id="k7"><text class="t" x="358" y="2610">用户UE,用户站SS基站BS核心网CN</text></g>
<g id="k8"><text class="t" x="659.7" y="2637.7">物理层</text><use href="#m" x="641.7" y="2637.7"/></g>
<g id="k9"><text class="t" x="515.7" y="2637.7">单/多载波OFDM</text></g>
<g id="k10"><text class="t" x="658.4" y="2707">Mac层</text><use href="#m" x="641.7" y="2707"/></g>
<g id="k11"><text class="t" x="523.8" y="2707">链路自适应机制</text><use href="#m" x="507" y="2707"/></g>
<g id="k12"><text class="t" x="25.5" y="2666.7">在当前的信道条件下，通过对某些传输参数的适配，让链路尽可能高效地运行。</text></g>
<g id="k13"><text class="t" x="303.4" y="2693.6">自适应编码AMC 调制编码方式</text></g>
<g id="k14"><text class="t" x="303.4" y="2722">自动请求重传ARQ ACK,NACK</text></g>
<g id="k15"><text class="t" x="333.6" y="2749.6">混合自动请求重传H-ARQ</text></g>
<g id="k16"><text class="t" x="645" y="2831.7">QoS架构</text><use href="#m" x="628" y="2831.7"/></g>
<g id="k17"><text class="t"><tspan x="261" y="2777.4">主动授予服务(Unsolicited Grant Service，UGS)</tspan><tspan x="261" y="2796">实时查询服务(Real-time Polling Service，RTPS)</tspan><tspan x="261" y="2814.3">非实时查询服务(Non-Real-Time Polling Service，NRTPS)</tspan><tspan x="261" y="2831.7">尽力而为(Best Effort，BE)</tspan></text></g>
<g id="k18"><text class="t" x="659.7" y="2859.5">移动性</text><use href="#m" x="641.7" y="2859.5"/></g>
<g id="k19"><text class="t" x="511" y="2859.5">802.16e 2~66Hz</text></g>
<g id="k20"><text class="t" x="655" y="2940.7">WiMax</text><use href="#m" x="637.6" y="2940.7"/></g>
<g id="k21"><text class="t"><tspan x="117" y="2888.5">世界微波接入互操作性论坛(Worldwide  Interoperability for Microwave Access)一致</tspan><tspan x="117" y="2906">性和互操作性认证</tspan></text></g>
<g id="k22"><text class="t" x="541" y="2976">与Wi-Fi竞争</text><use href="#m" x="524.5" y="2976"/></g>
<g id="k23"><text class="t" x="446.7" y="2934">覆盖范围</text></g>
<g id="k24"><text class="t" x="446.7" y="2962">可扩展性</text></g>
<g id="k25"><text class="t" x="445.5" y="2990">QoS机制</text></g>
<g id="k26"><text class="t" x="458.8" y="3018">产业链</text></g>
<g id="watermark" fill="#6e8e86" fill-opacity="0.85" font-style="italic" font-family="'DejaVu Serif','Noto Sans CJK SC',serif">
<text x="1341" y="2540" font-size="52" textLength="400" lengthAdjust="spacingAndGlyphs">By 刘冬冬JLU</text>
<text x="1304" y="2568" font-size="62" textLength="741" lengthAdjust="spacingAndGlyphs">https://blog.csdn.net/liudongdong19</text>
</g>
</svg>
